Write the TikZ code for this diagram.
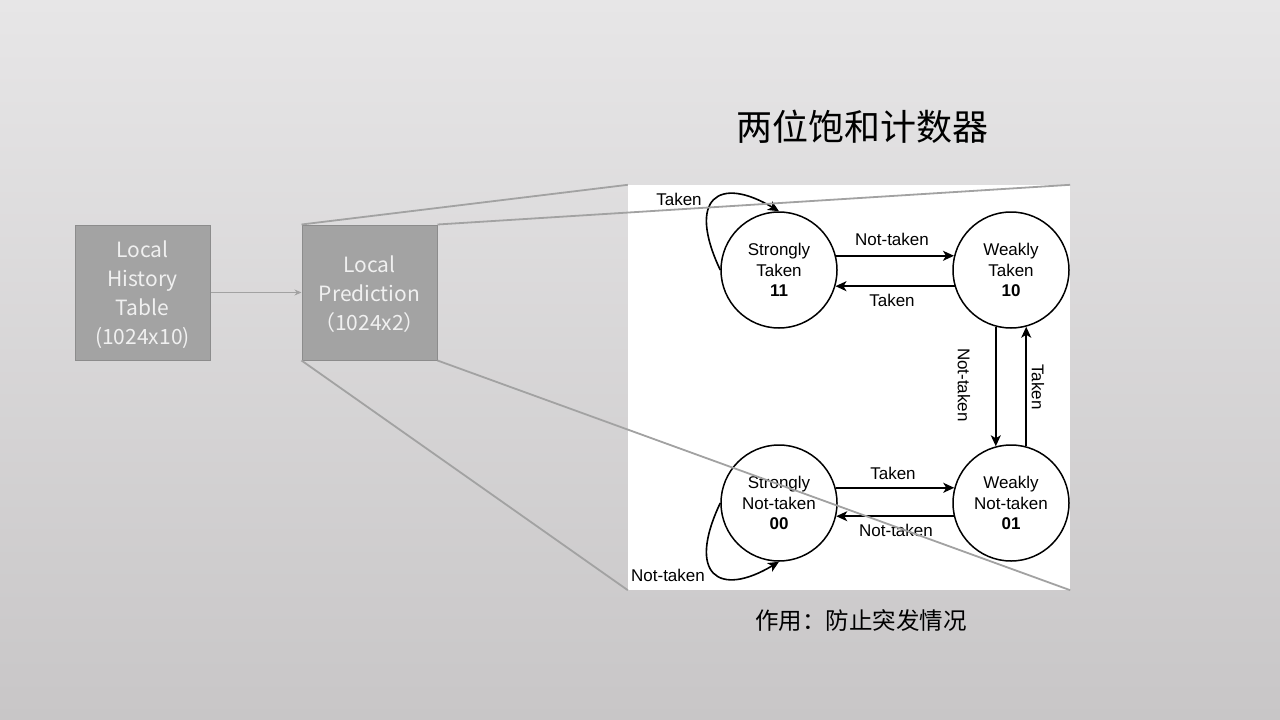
\documentclass[tikz,border=0pt]{standalone}
\usepackage{fontspec}
\setmainfont{Liberation Sans}
\newfontfamily\cjk{Noto Sans CJK SC}
\usetikzlibrary{arrows.meta}

\definecolor{bgtop}{HTML}{E7E6E7}
\definecolor{bgbot}{HTML}{C8C6C7}
\definecolor{boxfill}{HTML}{A3A3A3}
\definecolor{boxline}{HTML}{8C8C8C}
\definecolor{zoomline}{HTML}{A2A2A2}

\tikzset{
  tablebox/.style={draw=boxline, line width=1pt, fill=boxfill, minimum width=135pt,
    minimum height=135pt, inner sep=0pt},
  tabletext/.style={inner sep=0pt, align=center, text=white!94!black,
    font=\cjk\fontsize{21}{29}\selectfont},
  zoomedge/.style={draw=zoomline, line width=1.8pt},
  feed/.style={draw=zoomline, line width=1.5pt, -{Stealth[length=7pt,width=6pt]}},
  state/.style={circle, draw=black, line width=1.5pt, minimum size=116pt, inner sep=0pt,
    align=center, font=\fontsize{17}{20.5}\selectfont},
  trans/.style={draw=black, line width=1.6pt, -{Stealth[length=11pt,width=10pt,inset=3pt]}},
  lbl/.style={font=\fontsize{17}{20}\selectfont, inner sep=0pt},
}

\begin{document}
\begin{tikzpicture}[x=1pt, y=-1pt]
  \useasboundingbox (0,0) rectangle (1280,720);
  \shade[top color=bgtop, bottom color=bgbot] (0,0) rectangle (1280,720);

  % history table and prediction table
  \node[tablebox] (lht) at (142.5,292.5) {};
  \node[tabletext] (lhtx) at (142.5,295) {Local\\History\\Table\\(1024x10)};
  \node[tablebox] (lp) at (369.5,292.5) {};
  \node[tabletext] (lpx) at (369.5,294.5) {Local\\Prediction\\（1024x2）};
  \draw[feed] (lht.east) -- (lp.west);

  % enlarged view of one prediction entry
  \node[fill=white, minimum width=442pt, minimum height=405pt, inner sep=0pt] (pan) at (849,387.5) {};

  \node[font=\cjk\fontsize{36}{40}\selectfont] (title) at (862,127) {两位饱和计数器};
  \node[font=\cjk\fontsize{23.5}{28}\selectfont] (note) at (861,621) {作用：防止突发情况};

  % two-bit saturating counter states
  \node[state] (st) at (779,270) {Strongly\\Taken\\\textbf{11}};
  \node[state] (wt) at (1011,270) {Weakly\\Taken\\\textbf{10}};
  \node[state] (sn) at (779,503) {Strongly\\Not-taken\\\textbf{00}};
  \node[state] (wn) at (1011,503) {Weakly\\Not-taken\\\textbf{01}};

  \draw[trans] (st.14) -- (wt.166);
  \draw[trans] (wt.196) -- (st.-16);
  \draw[trans] (wt.255) -- (wn.105);
  \draw[trans] (wn.75) -- (wt.285);
  \draw[trans] (sn.15) -- (wn.165);
  \draw[trans] (wn.193) -- (sn.-13);

  \draw[trans] (st.west) .. controls +(-34,-72) and +(-60,-36) .. (st.north);
  \draw[trans] (sn.west) .. controls +(-34,72) and +(-60,36) .. (sn.south);

  \node[lbl] (l1) at (679,199) {Taken};
  \node[lbl] (l2) at (892,239) {Not-taken};
  \node[lbl] (l3) at (892,300) {Taken};
  \node[lbl, rotate=-90] (l4) at (964,385) {Not-taken};
  \node[lbl, rotate=-90] (l5) at (1038,387) {Taken};
  \node[lbl] (l6) at (893,473) {Taken};
  \node[lbl] (l7) at (896,530) {Not-taken};
  \node[lbl] (l8) at (668,575) {Not-taken};

  % projection lines from the prediction table to the enlarged view
  \draw[zoomedge] (lp.north west) -- (pan.north west);
  \draw[zoomedge] (lp.north east) -- (pan.north east);
  \draw[zoomedge] (lp.south west) -- (pan.south west);
  \draw[zoomedge] (lp.south east) -- (pan.south east);
\end{tikzpicture}
\end{document}
